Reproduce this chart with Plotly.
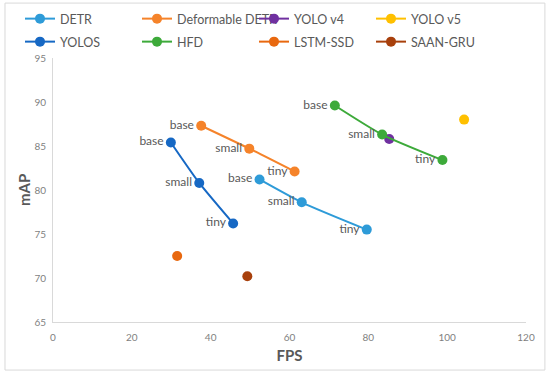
import plotly.graph_objects as go

# ---- data ----
series_names = ["DETR", "Deformable DETR", "YOLO v4", "YOLO v5", "YOLOS", "HFD", "LSTM-SSD", "SAAN-GRU"]
detr_fps = [52.4, 63.1, 79.6]
detr_map = [81.2, 78.6, 75.5]
deform_fps = [37.6, 49.8, 61.3]
deform_map = [87.3, 84.7, 82.1]
yolov4_fps = [85.3]
yolov4_map = [85.8]
yolov5_fps = [104.3]
yolov5_map = [88.0]
yolos_fps = [29.9, 37.1, 45.7]
yolos_map = [85.4, 80.8, 76.2]
hfd_fps = [71.5, 83.5, 98.8]
hfd_map = [89.6, 86.3, 83.4]
lstm_fps = [31.5]
lstm_map = [72.5]
saan_fps = [49.3]
saan_map = [70.2]
size_labels = ["base", "small", "tiny"]

colors = ["#2E9BD8", "#F5832A", "#7030A0", "#FFC000", "#1668C4", "#3DAA3A", "#E8680F", "#A8400C"]
xs = [detr_fps, deform_fps, yolov4_fps, yolov5_fps, yolos_fps, hfd_fps, lstm_fps, saan_fps]
ys = [detr_map, deform_map, yolov4_map, yolov5_map, yolos_map, hfd_map, lstm_map, saan_map]

FONT = "Lato, 'Open Sans', sans-serif"

fig = go.Figure()
for i, (name, c, x, y) in enumerate(zip(series_names, colors, xs, ys)):
    labeled = len(x) == 3
    fig.add_trace(go.Scatter(
        x=x, y=y, name=name,
        legend="legend" if i < 4 else "legend2",
        mode="lines+markers+text" if labeled else "lines+markers",
        text=size_labels if labeled else None,
        textposition="middle left",
        textfont=dict(family=FONT, size=12, color="#595959"),
        line=dict(color=c, width=2, shape="spline", smoothing=0.6),
        marker=dict(color=c, size=10),
    ))

leg_common = dict(
    orientation="h", xref="container", yref="container",
    x=20 / 550, xanchor="left", yanchor="middle",
    entrywidth=72, entrywidthmode="pixels",
    font=dict(family=FONT, size=12.5, color="#595959"),
    itemwidth=30, bgcolor="rgba(0,0,0,0)",
)

fig.update_layout(
    width=550, height=374,
    margin=dict(l=53, r=24, t=58, b=52, autoexpand=False),
    paper_bgcolor="white", plot_bgcolor="white",
    font=dict(family=FONT, color="#595959"),
    showlegend=True,
    legend=dict(leg_common, y=1 - 19 / 374),
    legend2=dict(leg_common, y=1 - 42 / 374),
    xaxis=dict(
        range=[0, 120], dtick=20, showgrid=False, zeroline=False,
        showline=True, linecolor="#D9D9D9", linewidth=1, automargin=False,
        ticks="", ticklabelstandoff=6, tickfont=dict(family=FONT, size=10, color="#7F7F7F"),
        title=dict(text="<b>FPS</b>", font=dict(family=FONT, size=15, color="#595959"), standoff=8),
    ),
    yaxis=dict(
        range=[65, 95], dtick=5, showgrid=False, zeroline=False,
        showline=True, linecolor="#D9D9D9", linewidth=1, automargin=False,
        ticks="", ticklabelstandoff=4, tickfont=dict(family=FONT, size=10, color="#7F7F7F"),
    ),
    annotations=[dict(
        text="<b>mAP</b>", textangle=-90, showarrow=False,
        xref="paper", yref="paper", x=(24 - 53) / 473, y=0.5,
        xanchor="center", yanchor="middle",
        font=dict(family=FONT, size=15, color="#595959"),
    )],
    shapes=[dict(
        type="rect", xref="paper", yref="paper",
        x0=-0.1015, x1=1.040, y0=-0.182, y1=1.208,
        line=dict(color="#D9D9D9", width=1), layer="below",
    )],
)

fig.write_html("out.html", config={"displayModeBar": False},
               post_script="document.body.style.margin='0';")
